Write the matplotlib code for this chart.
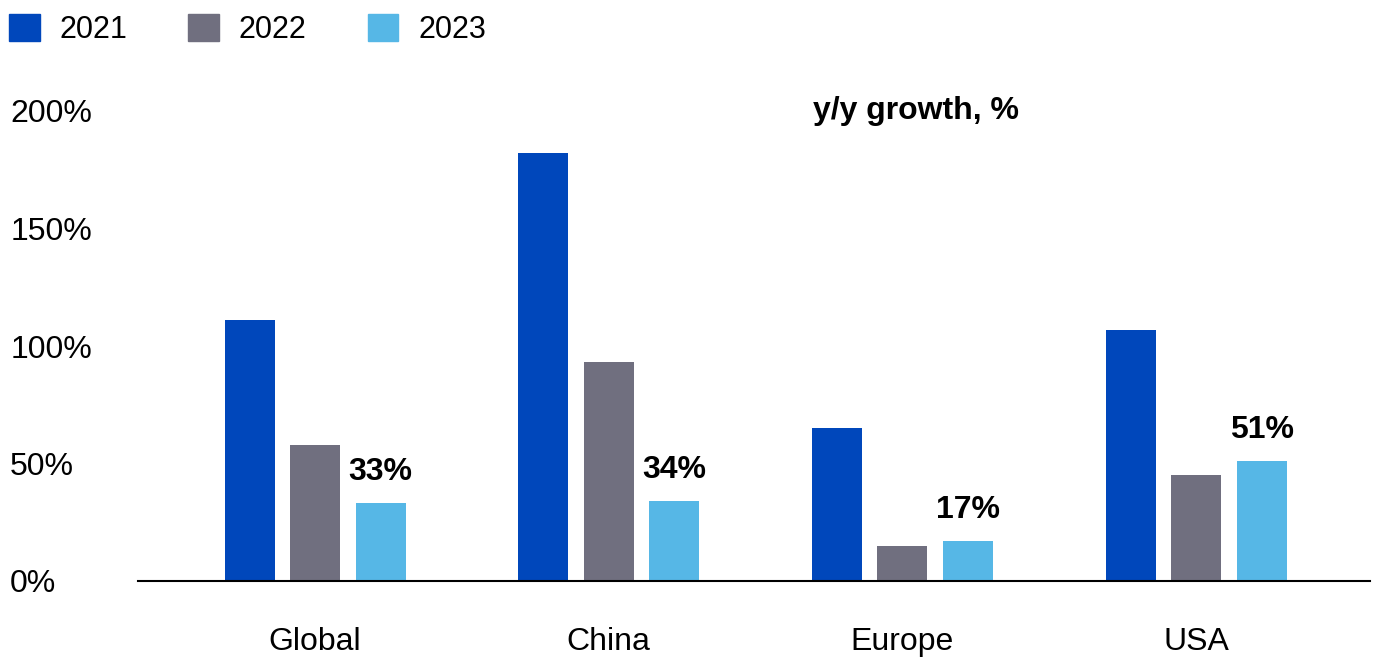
import matplotlib
matplotlib.use("Agg")
import matplotlib.pyplot as plt
from matplotlib.patches import Patch
import numpy as np

plt.rcParams['font.family'] = ['Liberation Sans', 'DejaVu Sans']

regions = ["Global", "China", "Europe", "USA"]
years = ["2021", "2022", "2023"]
g2021 = [111, 182, 65, 107]
g2022 = [58, 93, 15, 45]
g2023 = [33, 34, 17, 51]
labels_2023 = ["33%", "34%", "17%", "51%"]
colors = ["#0047BB", "#706F7F", "#56B7E6"]

fig = plt.figure(figsize=(13.84, 6.57), dpi=100)
ax = fig.add_axes([138/1384, 1-581/657, (1370-138)/1384, (581-111)/657])

x = np.arange(len(regions))
w = 0.17
step = 0.223
series = [g2021, g2022, g2023]
for i in range(3):
    ax.bar(x + (i-1)*step, series[i], width=w, color=colors[i])

# value labels above the 2023 bars
for xi, v, lab in zip(x, g2023, labels_2023):
    ax.text(xi + step, v + 7, lab, ha='center', va='bottom',
            fontsize=23, fontweight='bold')

ax.text(2.046, 200, "y/y growth, %", ha='center', va='center',
        fontsize=23, fontweight='bold')

ax.set_xlim(-0.603, 3.592)
ax.set_ylim(0, 200)
ax.set_yticks([0, 50, 100, 150, 200])
ax.set_yticklabels(["0%", "50%", "100%", "150%", "200%"])
ax.set_xticks(x)
ax.set_xticklabels(regions)
ax.tick_params(axis='y', length=0, pad=92, labelsize=23)
ax.tick_params(axis='x', length=0, pad=33, labelsize=23)
for t in ax.get_yticklabels():
    t.set_horizontalalignment('left')

for s in ['top', 'right', 'left']:
    ax.spines[s].set_visible(False)
ax.spines['bottom'].set_linewidth(1.5)

handles = [Patch(color=c, label=y) for c, y in zip(colors, years)]
fig.legend(handles=handles, loc='upper left',
           bbox_to_anchor=(9/1384, 1-14/657),
           ncol=3, frameon=False, fontsize=22, handlelength=1.0,
           handleheight=1.0, handletextpad=0.65, columnspacing=2.0,
           borderaxespad=0, borderpad=0)

fig.savefig("out.png", dpi=100)
